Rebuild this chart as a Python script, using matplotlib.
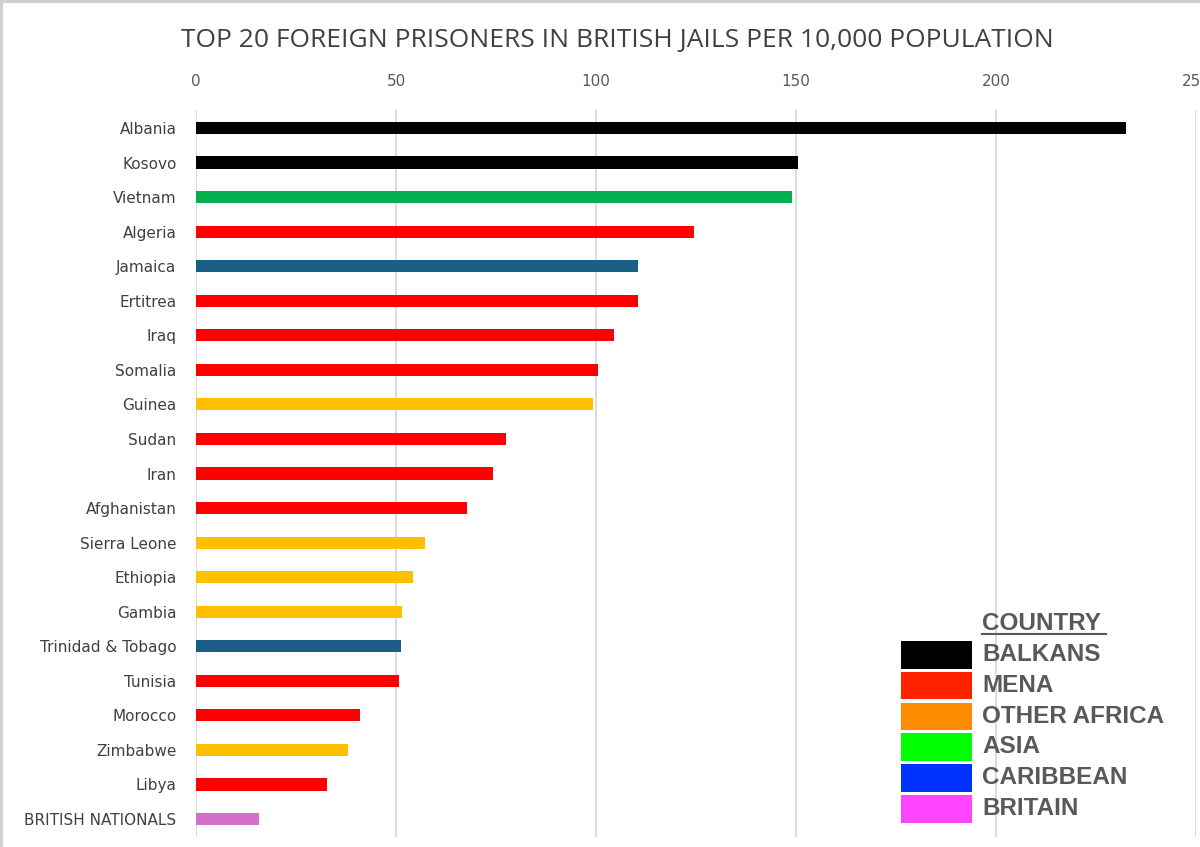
import matplotlib
matplotlib.use("Agg")
import matplotlib.pyplot as plt
from matplotlib.patches import Rectangle

countries = ["Albania", "Kosovo", "Vietnam", "Algeria", "Jamaica", "Ertitrea", "Iraq",
             "Somalia", "Guinea", "Sudan", "Iran", "Afghanistan", "Sierra Leone",
             "Ethiopia", "Gambia", "Trinidad & Tobago", "Tunisia", "Morocco",
             "Zimbabwe", "Libya", "BRITISH NATIONALS"]
per_10k = [232.5, 150.5, 149.0, 124.4, 110.6, 110.6, 104.4, 100.5, 99.2, 77.5, 74.2,
           67.8, 57.3, 54.2, 51.6, 51.2, 50.8, 41.0, 38.0, 32.8, 15.8]
regions = ["BALKANS", "BALKANS", "ASIA", "MENA", "CARIBBEAN", "MENA", "MENA", "MENA",
           "OTHER AFRICA", "MENA", "MENA", "MENA", "OTHER AFRICA", "OTHER AFRICA",
           "OTHER AFRICA", "CARIBBEAN", "MENA", "MENA", "OTHER AFRICA", "MENA", "BRITAIN"]

# colours used for the bars
bar_colours = {"BALKANS": "#000000", "MENA": "#FF0000", "OTHER AFRICA": "#FFC000",
               "ASIA": "#00B050", "CARIBBEAN": "#1B5F86", "BRITAIN": "#D46ECB"}

# the hand-made key uses brighter swatches than the bars
legend_labels = ["BALKANS", "MENA", "OTHER AFRICA", "ASIA", "CARIBBEAN", "BRITAIN"]
legend_colours = ["#000000", "#FF2200", "#FF8C00", "#00FF00", "#0033FF", "#FF44FF"]

x_ticks = [0, 50, 100, 150, 200, 250]

W, H = 1200, 847
fig = plt.figure(figsize=(W / 100, H / 100), dpi=100)
ax = fig.add_axes([196 / W, 1 - 837 / H, (1196 - 196) / W, (837 - 110) / H])

ypos = list(range(len(countries)))
ax.barh(ypos, per_10k, height=0.35, color=[bar_colours[r] for r in regions], zorder=3)

ax.set_xlim(0, 250)
ax.set_ylim(20.52, -0.52)
ax.set_xticks(x_ticks)
ax.xaxis.tick_top()
ax.tick_params(axis="x", length=0, pad=15, labelsize=11, labelcolor="#595959")
ax.set_yticks(ypos)
ax.set_yticklabels(countries)
ax.tick_params(axis="y", length=0, pad=14, labelsize=11, labelcolor="#404040")
ax.grid(axis="x", color="#D9D9D9", lw=1.3, zorder=0)
for s in ax.spines.values():
    s.set_visible(False)

fig.text(617 / W, 1 - 40 / H, "TOP 20 FOREIGN PRISONERS IN BRITISH JAILS PER 10,000 POPULATION",
         ha="center", va="center", fontsize=19, color="#404040", family="Open Sans")

# chart frame, only the top and left edges show in the crop
fig.patches.append(Rectangle((1 / W, -0.1), 1.2, 1.1 - 1.5 / H, transform=fig.transFigure,
                             fill=False, edgecolor="#D0D0D0", lw=3))

# key
fig.text(982 / W, 1 - 624 / H, "COUNTRY", ha="left", va="center", fontsize=17.5,
         fontweight="bold", color="#595959", family="Liberation Sans")
fig.add_artist(plt.Line2D([982 / W, 1106 / W], [1 - 634 / H, 1 - 634 / H], color="#595959", lw=1.5))
for i, (lab, col) in enumerate(zip(legend_labels, legend_colours)):
    top = 641 + i * 30.8
    fig.patches.append(Rectangle((901 / W, 1 - (top + 27.5) / H), 71 / W, 27.5 / H,
                                 transform=fig.transFigure, facecolor=col, edgecolor="none"))
    fig.text(982 / W, 1 - (top + 13.5) / H, lab, ha="left", va="center", fontsize=17.5,
             fontweight="bold", color="#595959", family="Liberation Sans")

fig.savefig("out.png", dpi=100)
